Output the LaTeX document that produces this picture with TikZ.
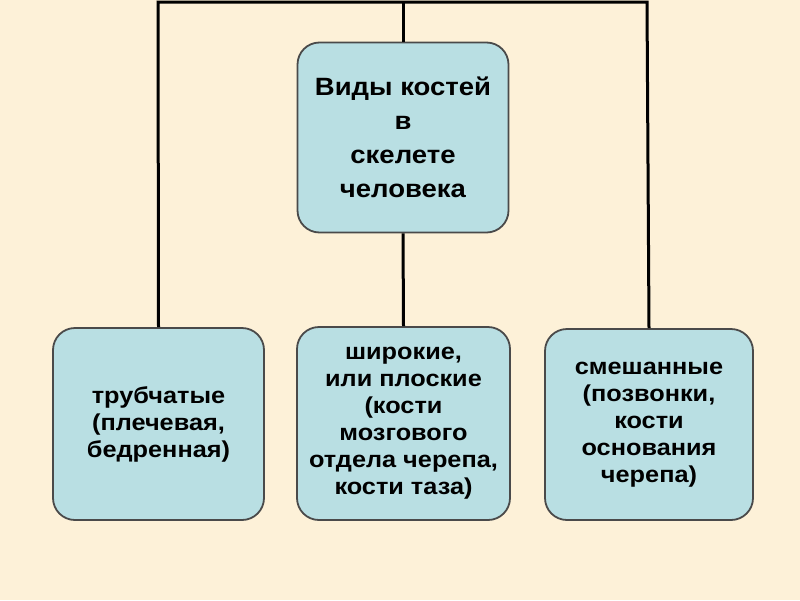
\documentclass[tikz,border=0pt]{standalone}
\usepackage{fontspec}
\setmainfont{Liberation Sans}[FakeStretch=1.1]

\definecolor{paper}{HTML}{FDF1D8}
\definecolor{boxfill}{HTML}{B9DFE3}
\definecolor{boxline}{HTML}{4A4A4A}

\begin{document}
\begin{tikzpicture}[x=1pt,y=-1pt,
  kind/.style={draw=boxline,line width=1.8pt,fill=boxfill,rounded corners=22pt,
    align=center,inner sep=0pt,font=\bfseries\fontsize{23}{27}\selectfont},
  link/.style={line width=3pt,black}]
  \fill[paper] (0,0) rectangle (800,600);
  \useasboundingbox (0,0) rectangle (800,600);

  \coordinate (TL) at (158,2);
  \coordinate (TM) at (403,2);
  \coordinate (TR) at (647,2);

  \node[kind,minimum width=211pt,minimum height=190pt,
    font=\bfseries\fontsize{25}{34}\selectfont] (root) at (403,137.5)
    {Виды костей\\в\\скелете\\человека};
  \node[kind,minimum width=211pt,minimum height=192pt] (tube) at (158.5,424)
    {трубчатые\\(плечевая,\\бедренная)};
  \node[kind,minimum width=213pt,minimum height=193pt] (flat) at (403.5,423.5)
    {широкие,\\или плоские\\(кости\\мозгового\\отдела черепа,\\кости таза)};
  \node[kind,minimum width=208pt,minimum height=191pt] (mixed) at (649,424.5)
    {смешанные\\(позвонки,\\кости\\основания\\черепа)};

  \draw[link] (tube.north) -- (TL) -- (TR) -- (mixed.north);
  \draw[link] (TM) -- (root.north);
  \draw[link] (root.south) -- (flat.north);
\end{tikzpicture}
\end{document}
